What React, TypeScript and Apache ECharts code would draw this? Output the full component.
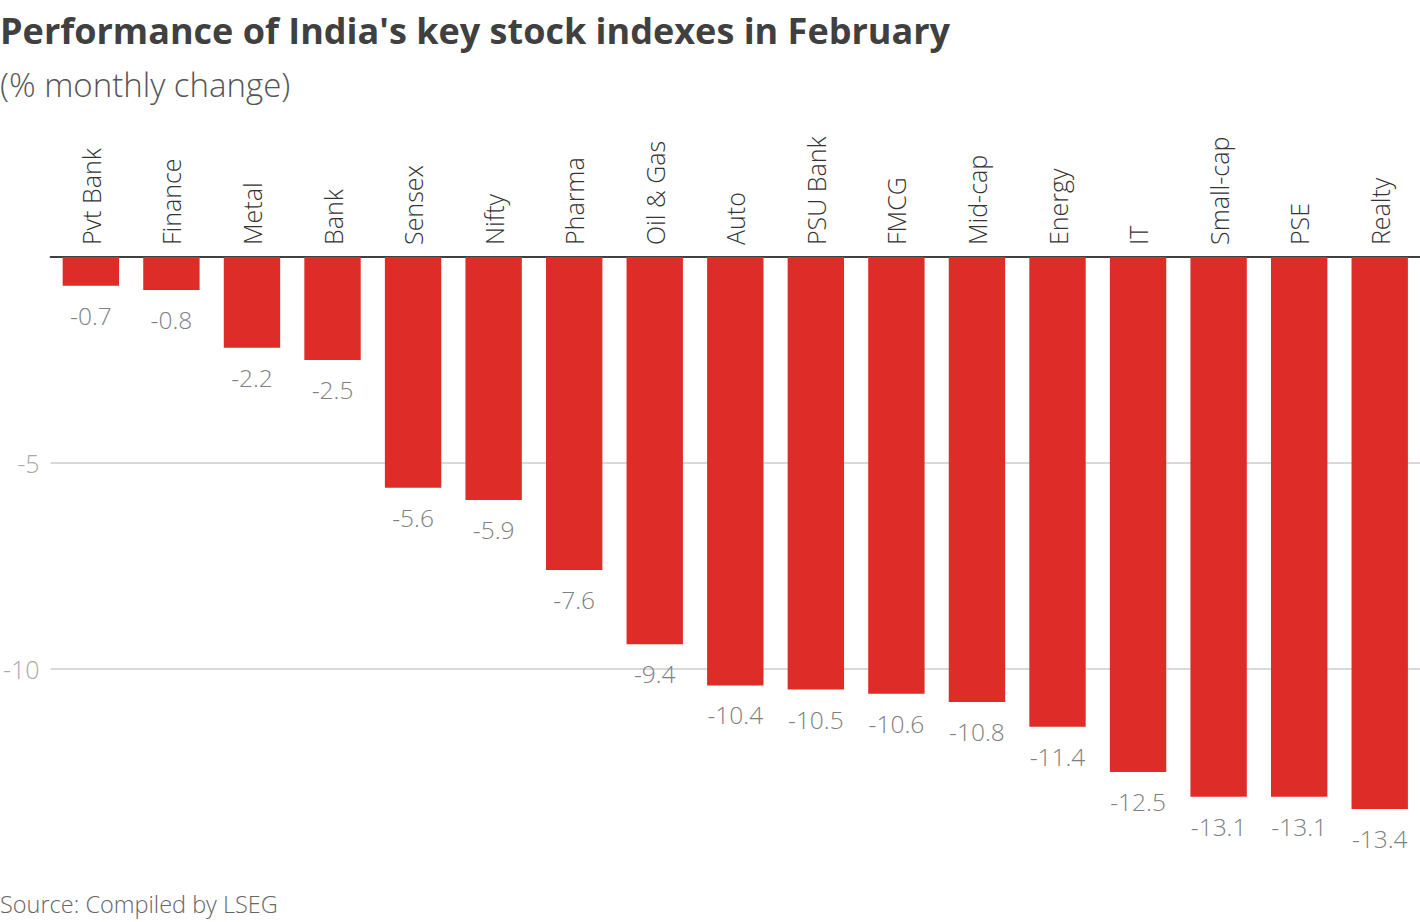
import React, { useEffect, useRef } from "react";
import * as echarts from "echarts";

const categories = [
  "Pvt Bank", "Finance", "Metal", "Bank", "Sensex", "Nifty", "Pharma", "Oil & Gas",
  "Auto", "PSU Bank", "FMCG", "Mid-cap", "Energy", "IT", "Small-cap", "PSE", "Realty",
];
const values = [
  -0.7, -0.8, -2.2, -2.5, -5.6, -5.9, -7.6, -9.4,
  -10.4, -10.5, -10.6, -10.8, -11.4, -12.5, -13.1, -13.1, -13.4,
];
const titleText = "Performance of India's key stock indexes in February";
const subtitleText = "(% monthly change)";
const sourceText = "Source: Compiled by LSEG";

const FONT = "'Open Sans', Lato, sans-serif";

export default function App() {
  const ref = useRef<HTMLDivElement>(null);
  useEffect(() => {
    document.body.style.margin = "0";
    const chart = echarts.init(ref.current!, null, { renderer: "svg" });
    chart.setOption({
      animation: false,
      textStyle: { fontFamily: FONT },
      title: [
        {
          text: titleText,
          left: 0,
          top: 12,
          padding: 0,
          textStyle: { fontFamily: FONT, fontSize: 36, fontWeight: "bold", color: "#404040" },
        },
        {
          text: subtitleText,
          left: 0,
          top: 68,
          padding: 0,
          textStyle: { fontFamily: FONT, fontSize: 33, fontWeight: 300, color: "#555555" },
        },
        {
          text: sourceText,
          left: 0,
          top: 892,
          padding: 0,
          textStyle: { fontFamily: FONT, fontSize: 23.5, fontWeight: 300, color: "#666666" },
        },
      ],
      grid: { left: 45, right: 0, top: 257, height: 618, containLabel: false },
      xAxis: {
        type: "category",
        data: categories,
        position: "top",
        axisLine: { show: true, lineStyle: { color: "#404040", width: 2 } },
        axisTick: { show: false },
        axisLabel: {
          rotate: 90,
          interval: 0,
          margin: 12,
          fontSize: 25,
          fontWeight: 300,
          color: "#333333",
          fontFamily: FONT,
        },
      },
      yAxis: {
        type: "value",
        min: -15,
        max: 0,
        interval: 5,
        axisLine: { show: false },
        axisTick: { show: false },
        axisLabel: {
          showMinLabel: false,
          showMaxLabel: false,
          fontSize: 25,
          fontWeight: 300,
          color: "#aaaaaa",
          margin: 11,
          fontFamily: FONT,
        },
        splitLine: {
          show: true,
          showMinLine: false,
          showMaxLine: false,
          lineStyle: { color: "#cccccc", width: 1.5 },
        },
      },
      series: [
        {
          type: "bar",
          data: values,
          barWidth: "70%",
          itemStyle: { color: "#de2d28" },
          label: {
            show: true,
            position: "bottom",
            distance: 17,
            fontSize: 24.5,
            fontWeight: 300,
            color: "#808080",
            fontFamily: FONT,
            formatter: (p: any) => String(p.value),
          },
        },
      ],
    });
    return () => chart.dispose();
  }, []);
  return <div ref={ref} style={{ width: 1420, height: 922 }} />;
}
